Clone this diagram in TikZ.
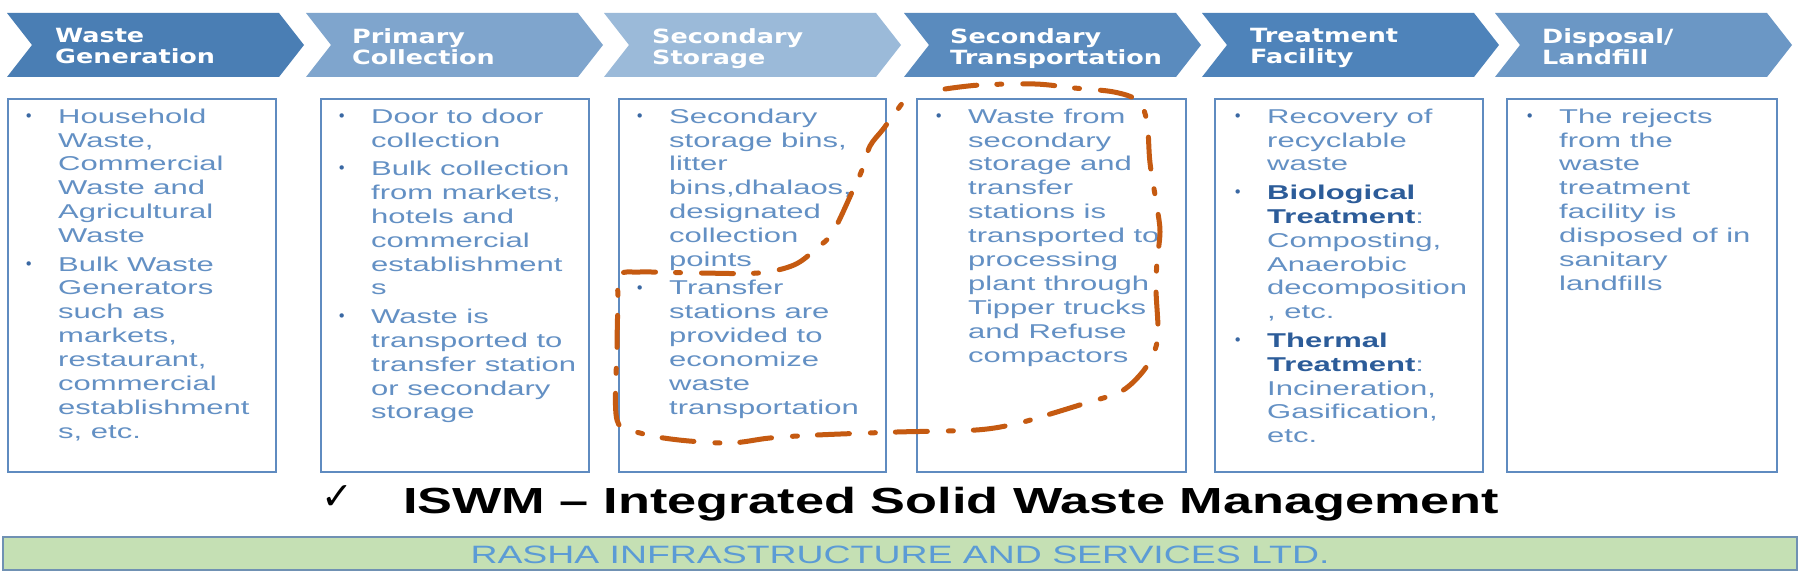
\documentclass[tikz,border=0pt]{standalone}
\usepackage{fontspec}
\newfontfamily\chevfont[FakeStretch=1.3]{DejaVu Sans Bold}
\newfontfamily\listfont[FakeStretch=1.55]{Liberation Sans}
\newfontfamily\titlefont[FakeStretch=1.44]{Liberation Sans Bold}
\newfontfamily\barfont[FakeStretch=1.49]{Liberation Sans}
\newfontfamily\symfont{DejaVu Sans}

\definecolor{chevGen}{HTML}{4A7EB4}
\definecolor{chevCol}{HTML}{7FA5CD}
\definecolor{chevSto}{HTML}{9BBAD9}
\definecolor{chevTra}{HTML}{5A8BBE}
\definecolor{chevTre}{HTML}{4E83BA}
\definecolor{chevDis}{HTML}{6B97C5}
\definecolor{boxline}{HTML}{5F8BC0}
\definecolor{listblue}{HTML}{6390C4}
\definecolor{bulletblue}{HTML}{3A68A3}
\definecolor{boldblue}{HTML}{2C5C99}
\definecolor{loopred}{HTML}{C55A11}
\definecolor{bargreen}{HTML}{C5E0B4}
\definecolor{barline}{HTML}{7091B3}
\definecolor{bartext}{HTML}{5B9BD5}

\newcommand{\bul}{\llap{\textcolor{bulletblue}{\raisebox{1.5pt}{\symfont\fontsize{15}{15}\selectfont •}}\hspace{25pt}}}
\newcommand{\bwd}[1]{\textcolor{boldblue}{\bfseries #1}}

\tikzset{
    chevlabel/.style={anchor=north west, inner sep=0pt, align=left, text=white,
        font=\chevfont\fontsize{19.6}{20.5}\selectfont},
    listbox/.style={draw=boxline, line width=2.2pt},
    listtext/.style={anchor=north west, inner sep=0pt, align=left, text=listblue,
        font=\listfont\fontsize{20}{23.9}\selectfont},
    loopline/.style={draw=loopred, line width=5pt, line cap=round,
        dash pattern=on 32pt off 20pt on 5pt off 21pt},
}

\begin{document}
\begin{tikzpicture}[x=1pt, y=-1pt]

\useasboundingbox[fill=white] (0,0) rectangle (1800,575);

% column 1: waste generation
\begin{scope}[xshift=7pt]
    \fill[chevGen] (0,13) -- (272,13) -- (297,45) -- (272,77) -- (0,77) -- (25,45) -- cycle;
    \node[chevlabel] (hGen) at (48,28.5) {Waste\\Generation};
    \draw[listbox] (1,99) rectangle (269,472);
    \node[listtext] (lGen) at (51,108.5) {\bul Household\\ Waste,\\ Commercial\\ Waste and\\ Agricultural\\ Waste\\[4.5pt]
        \bul Bulk Waste\\ Generators\\ such as\\ markets,\\ restaurant,\\ commercial\\ establishment\\ s, etc.};
\end{scope}

% column 2: primary collection
\begin{scope}[xshift=306pt]
    \fill[chevCol] (0,13) -- (272,13) -- (297,45) -- (272,77) -- (0,77) -- (25,45) -- cycle;
    \node[chevlabel] (hCol) at (46,28.5) {Primary\\Collection};
    \draw[listbox] (15,99) rectangle (283,472);
    \node[listtext] (lCol) at (65,108.5) {\bul Door to door\\ collection\\[4.5pt]
        \bul Bulk collection\\ from markets,\\ hotels and\\ commercial\\ establishment\\ s\\[4.5pt]
        \bul Waste is\\ transported to\\ transfer station\\ or secondary\\ storage};
\end{scope}

% column 3: secondary storage
\begin{scope}[xshift=604pt]
    \fill[chevSto] (0,13) -- (272,13) -- (297,45) -- (272,77) -- (0,77) -- (25,45) -- cycle;
    \node[chevlabel] (hSto) at (48,28.5) {Secondary\\Storage};
    \draw[listbox] (15,99) rectangle (282,472);
    \node[listtext] (lSto) at (65,108.5) {\bul Secondary\\ storage bins,\\ litter\\ bins,dhalaos,\\ designated\\ collection\\ points\\[4.5pt]
        \bul Transfer\\ stations are\\ provided to\\ economize\\ waste\\ transportation};
\end{scope}

% column 4: secondary transportation
\begin{scope}[xshift=904pt]
    \fill[chevTra] (0,13) -- (272,13) -- (297,45) -- (272,77) -- (0,77) -- (25,45) -- cycle;
    \node[chevlabel] (hTra) at (46,28.5) {Secondary\\Transportation};
    \draw[listbox] (13,99) rectangle (282,472);
    \node[listtext] (lTra) at (64,108.5) {\bul Waste from\\ secondary\\ storage and\\ transfer\\ stations is\\ transported to\\ processing\\ plant through\\ Tipper trucks\\ and Refuse\\ compactors};
\end{scope}

% column 5: treatment facility
\begin{scope}[xshift=1202pt]
    \fill[chevTre] (0,13) -- (272,13) -- (297,45) -- (272,77) -- (0,77) -- (25,45) -- cycle;
    \node[chevlabel] (hTre) at (48,28.5) {Treatment\\Facility};
    \draw[listbox] (13,99) rectangle (281,472);
    \node[listtext] (lTre) at (65,108.5) {\bul Recovery of\\ recyclable\\ waste\\[4.5pt]
        \bul \bwd{Biological}\\ \bwd{Treatment}:\\ Composting,\\ Anaerobic\\ decomposition\\ , etc.\\[4.5pt]
        \bul \bwd{Thermal}\\ \bwd{Treatment}:\\ Incineration,\\ Gasification,\\ etc.};
\end{scope}

% column 6: disposal
\begin{scope}[xshift=1495pt]
    \fill[chevDis] (0,13) -- (272,13) -- (297,45) -- (272,77) -- (0,77) -- (25,45) -- cycle;
    \node[chevlabel] (hDis) at (47,28.5) {Disposal/\\Landfill};
    \draw[listbox] (12,99) rectangle (282,472);
    \node[listtext] (lDis) at (64,108.5) {\bul The rejects\\ from the\\ waste\\ treatment\\ facility is\\ disposed of in\\ sanitary\\ landfills};
\end{scope}

% hand-drawn loop round storage and transportation
\draw[loopline] plot[smooth, tension=0.55] coordinates {
    (945,89) (980,85) (1035,84) (1074,88) (1114,92) (1138,101) (1147,122)
    (1150,163) (1157,207) (1160,232) (1157,262) (1156,290) (1158,333)
    (1153,355) (1140,375) (1120,392) (1086,403) (1047,415) (1015,424)
    (976,430) (897,432) (817,435) (770,438) (730,443) (679,440) (640,433)
    (617,420) (617,347) (618,300) (619,275) (640,272) (700,273) (758,273)
    (794,265) (817,248) (833,232) (853,190) (862,170) (870,146) (884,128) (906,98)};

% title line
\node[anchor=base west, inner sep=0pt, font=\symfont\fontsize{38}{38}\selectfont] (tick) at (321,509) {✓};
\node[anchor=base west, inner sep=0pt, font=\titlefont\fontsize{36.3}{40}\selectfont] (title) at (403,513)
    {ISWM – Integrated Solid Waste Management};

% company bar
\draw[fill=bargreen, draw=barline, line width=2pt] (3,537) rectangle (1797,570);
\node[anchor=base, inner sep=0pt, text=bartext, font=\barfont\fontsize{25.1}{28}\selectfont] (company) at (900,563)
    {RASHA INFRASTRUCTURE AND SERVICES LTD.};

\end{tikzpicture}
\end{document}
